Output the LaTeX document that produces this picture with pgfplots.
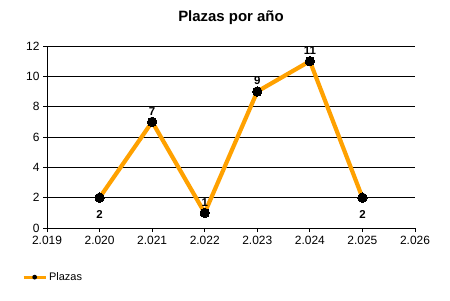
\documentclass[border=0pt]{standalone}
\usepackage{pgfplots}
\pgfplotsset{compat=1.18}
\usepackage{fontspec}
\setmainfont{Liberation Sans}
\definecolor{lineor}{HTML}{FFA100}
\begin{document}
\begin{tikzpicture}[x=1bp,y=1bp]
\useasboundingbox (0,0) rectangle (450,300);
\begin{axis}[
  at={(47bp,72bp)}, anchor=origin,
  scale only axis, width=368bp, height=182bp,
  xmin=0, xmax=7, ymin=0, ymax=12,
  xtick={0,...,7},
  xticklabels={2.019,2.020,2.021,2.022,2.023,2.024,2.025,2.026},
  ytick={0,2,...,12},
  axis x line*=bottom, axis y line*=left,
  axis line style={black, line width=1pt},
  ymajorgrids, major grid style={black, line width=0.8pt},
  tick align=outside, major tick length=4bp,
  tick style={black, line width=0.8pt},
  /pgf/number format/assume math mode=true,
  tick label style={font=\fontsize{12}{12}\selectfont},
  xticklabel style={yshift=-1bp},
  title={\textbf{Plazas por año}},
  title style={font=\fontsize{15}{16}\selectfont, at={(0.5,1)}, yshift=12bp},
  legend style={draw=none, fill=none, font=\fontsize{11}{12}\selectfont,
    at={(-0.068,-0.27)}, anchor=west, inner sep=0pt},
  legend cell align=left,
  clip=false,
]
\addplot[lineor, line width=4.2pt, mark=*, mark size=4.7bp,
  mark options={black, fill=black, line width=0pt},
  legend image code/.code={
    \draw[lineor, line width=3pt] (0bp,0bp) -- (22bp,0bp);
    \path[draw=none, fill=black, line width=0pt] (11bp,0bp) circle (2.4bp);
  }] coordinates {
  (1,2) (2,7) (3,1) (4,9) (5,11) (6,2)
};
\addlegendentry{Plazas}
\addplot[draw=none, mark=none, nodes near coords,
  point meta=explicit symbolic,
  every node near coord/.style={font=\bfseries\fontsize{11.5}{11.5}\selectfont, anchor=south, yshift=3bp},
  forget plot] coordinates {
  (2,7) [7] (3,1) [1] (4,9) [9] (5,11) [11]
};
\addplot[draw=none, mark=none, nodes near coords,
  point meta=explicit symbolic,
  every node near coord/.style={font=\bfseries\fontsize{11.5}{11.5}\selectfont, anchor=north, yshift=-9bp},
  forget plot] coordinates {
  (1,2) [2] (6,2) [2]
};
\end{axis}
\end{tikzpicture}
\end{document}
